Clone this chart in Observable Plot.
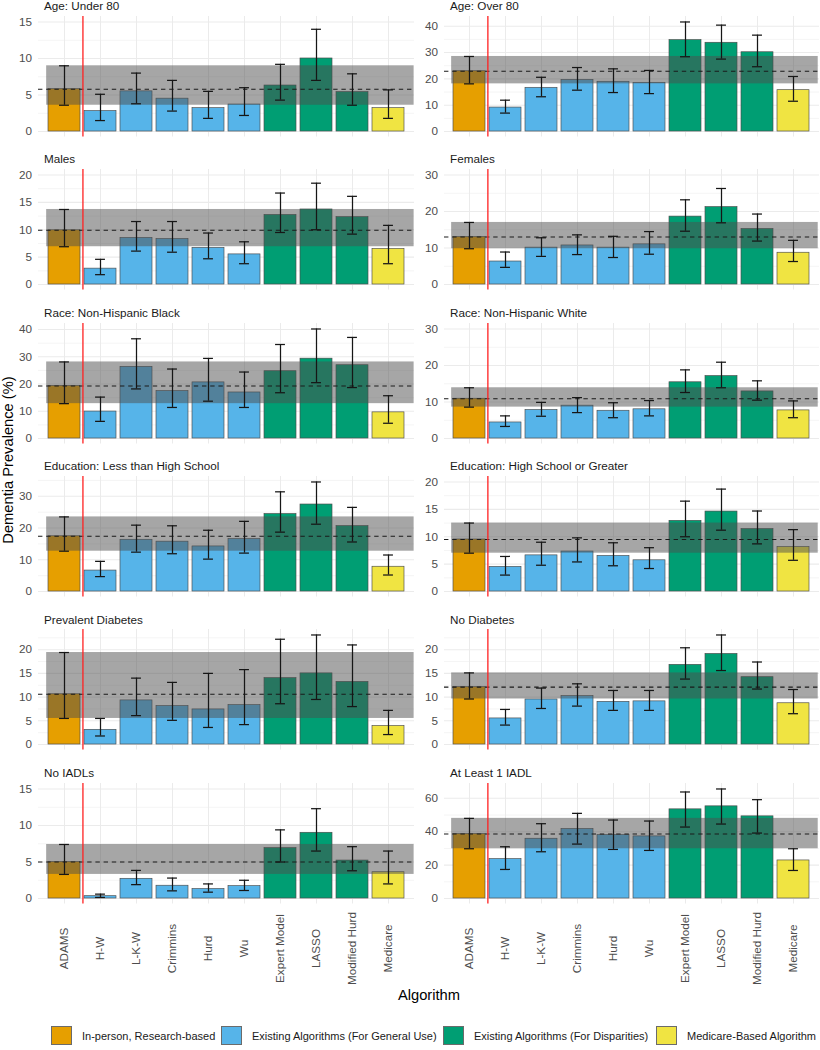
<!DOCTYPE html>
<html>
<head>
<meta charset="utf-8">
<script src="https://cdn.jsdelivr.net/npm/d3@7"></script>
<script src="https://cdn.jsdelivr.net/npm/@observablehq/plot@0.6"></script>
<style>
  body { margin: 0; background: #fff; }
  #chart { position: relative; width: 820px; height: 1050px; overflow: hidden; background: #fff;
           font-family: "Liberation Sans", Arial, Helvetica, sans-serif; }
  .strip { font-size: 11.7px; line-height: 1; color: #1a1a1a; white-space: nowrap; }
  .axtitle { font-size: 14.7px; line-height: 1; color: #000; white-space: nowrap; }
  .lgbox { position: absolute; width: 21px; height: 19px; box-sizing: border-box; border: 1px solid #6b6b6b; }
  .lgtext { position: absolute; font-size: 11px; line-height: 1; color: #1a1a1a; white-space: nowrap; }
</style>
</head>
<body>
<div id="chart"></div>
<script>
// ---------------- data ----------------
const algorithms = ["ADAMS", "H-W", "L-K-W", "Crimmins", "Hurd", "Wu", "Expert Model", "LASSO", "Modified Hurd", "Medicare"];
const groups = ["In-person, Research-based", "Existing Algorithms (For General Use)", "Existing Algorithms (For Disparities)", "Medicare-Based Algorithm"];
const algorithmGroup = [0, 1, 1, 1, 1, 1, 2, 2, 2, 3];
const groupColors = ["#E69F00", "#56B4E9", "#009E73", "#F0E442"];

const panelTitles = [
  "Age: Under 80", "Age: Over 80",
  "Males", "Females",
  "Race: Non-Hispanic Black", "Race: Non-Hispanic White",
  "Education: Less than High School", "Education: High School or Greater",
  "Prevalent Diabetes", "No Diabetes",
  "No IADLs", "At Least 1 IADL"
];

const estimate = [
  [5.8, 2.8, 5.5, 4.5, 3.2, 3.7, 6.3, 10.0, 5.4, 3.2],
  [22.9, 9.1, 16.6, 19.6, 18.9, 18.5, 34.7, 33.7, 30.1, 15.7],
  [9.9, 2.9, 8.5, 8.3, 6.7, 5.5, 12.7, 13.7, 12.3, 6.5],
  [13.0, 6.3, 10.1, 10.7, 10.1, 11.0, 18.6, 21.2, 15.2, 8.7],
  [19.3, 9.9, 26.3, 17.4, 20.6, 16.9, 24.7, 29.3, 26.9, 9.6],
  [10.9, 4.4, 7.8, 9.0, 7.6, 8.0, 15.4, 17.1, 12.9, 7.7],
  [17.4, 6.6, 16.3, 15.7, 14.2, 16.5, 24.4, 27.4, 20.6, 7.8],
  [9.5, 4.5, 6.6, 7.3, 6.5, 5.7, 12.9, 14.6, 11.4, 8.1],
  [10.6, 3.1, 9.3, 8.1, 7.4, 8.3, 14.0, 15.0, 13.2, 3.9],
  [12.1, 5.5, 9.5, 10.2, 9.0, 9.1, 16.8, 19.1, 14.2, 8.7],
  [5.0, 0.32, 2.7, 1.75, 1.3, 1.7, 6.9, 9.0, 5.2, 3.6],
  [38.6, 23.6, 35.8, 41.6, 38.0, 37.2, 53.4, 55.2, 49.2, 22.8]
];
const lower = [
  [3.6, 1.5, 3.8, 2.8, 1.8, 2.2, 4.3, 7.0, 3.6, 1.8],
  [18.1, 7.0, 13.2, 15.7, 14.8, 14.4, 28.4, 27.5, 24.6, 11.5],
  [6.9, 1.8, 6.1, 5.9, 4.7, 3.8, 9.5, 10.0, 9.2, 3.8],
  [9.8, 4.7, 7.7, 8.2, 7.4, 8.3, 14.6, 16.9, 11.9, 6.3],
  [12.8, 6.3, 18.2, 11.4, 13.7, 11.4, 16.8, 20.5, 18.7, 5.6],
  [8.6, 3.3, 6.1, 7.1, 5.7, 6.2, 12.6, 13.9, 10.5, 5.7],
  [12.7, 4.7, 12.4, 11.9, 10.2, 12.1, 18.7, 21.2, 15.6, 5.2],
  [7.0, 3.0, 4.8, 5.4, 4.7, 4.2, 10.0, 11.2, 8.7, 5.7],
  [5.5, 1.8, 6.1, 5.1, 3.6, 4.2, 8.6, 9.5, 8.0, 2.1],
  [9.6, 4.1, 7.6, 8.1, 7.2, 7.2, 13.8, 15.6, 11.7, 6.5],
  [3.3, 0.15, 1.9, 1.05, 0.87, 1.1, 5.0, 6.5, 3.8, 2.0],
  [29.8, 17.4, 28.0, 32.6, 29.4, 28.8, 42.8, 44.6, 39.2, 16.8]
];
const upper = [
  [9.0, 5.1, 8.0, 7.0, 5.5, 6.0, 9.2, 14.0, 7.9, 5.7],
  [28.5, 11.9, 20.6, 24.3, 23.8, 23.2, 41.6, 40.4, 36.6, 20.9],
  [13.7, 4.6, 11.5, 11.5, 9.4, 7.8, 16.7, 18.5, 16.1, 10.8],
  [17.0, 8.9, 12.8, 13.6, 13.2, 14.5, 23.2, 26.3, 19.3, 12.1],
  [28.1, 15.2, 36.6, 25.5, 29.4, 24.4, 34.5, 40.2, 37.1, 15.7],
  [13.9, 6.2, 9.9, 11.2, 9.8, 10.4, 18.8, 20.9, 15.8, 10.3],
  [23.5, 9.5, 20.9, 20.7, 19.3, 22.1, 31.4, 34.5, 26.5, 11.5],
  [12.5, 6.4, 9.0, 9.8, 8.9, 8.0, 16.5, 18.7, 14.7, 11.3],
  [19.4, 5.5, 14.0, 13.1, 15.0, 15.8, 22.2, 23.1, 21.0, 7.2],
  [15.1, 7.4, 11.9, 12.8, 11.4, 11.4, 20.4, 23.1, 17.4, 11.6],
  [7.4, 0.6, 3.85, 2.8, 2.0, 2.5, 9.4, 12.3, 7.1, 6.5],
  [48.0, 31.0, 44.8, 51.0, 47.0, 46.4, 63.8, 65.6, 59.2, 29.8]
];
// y-axis limits (before 5% expansion) and tick spacing per panel
const yLimit = [15, 41.6, 20, 30, 40.2, 30, 34.5, 20, 23.1, 23.1, 15, 65.6];
const tickStep = [5, 10, 5, 10, 10, 10, 10, 5, 5, 5, 5, 20];

const xTitle = "Algorithm";
const yTitle = "Dementia Prevalence (%)";

// ---------------- layout ----------------
const chart = document.getElementById("chart");
const FONT = '"Liberation Sans", Arial, Helvetica, sans-serif';
const colLeft = [0, 414], colWidth = [414, 406], mLeft = [38, 30], mRight = [0, 1];
const rowTop0 = 16, rowGap = 153.35, panelH = 120.5;

function place(el, left, top) {
  el.style.position = "absolute";
  el.style.left = left + "px";
  el.style.top = top + "px";
  chart.appendChild(el);
}

const xScale = {type: "band", domain: algorithms, paddingInner: 0.1, paddingOuter: 0.15, axis: null};
const ERR = "#161616", ERRW = 1.25;

panelTitles.forEach((title, i) => {
  const r = Math.floor(i / 2), c = i % 2;
  const rows = algorithms.map((a, j) => ({
    alg: a, group: groups[algorithmGroup[j]],
    est: estimate[i][j], lo: lower[i][j], hi: upper[i][j]
  }));
  const L = yLimit[i];
  const top = 1.05 * L;
  const majors = d3.range(0, top + 1e-9, tickStep[i]);
  const minors = d3.range(tickStep[i] / 2, top, tickStep[i]);
  const pw = colWidth[c] - mLeft[c] - mRight[c];
  const step = pw / 10.2;
  const rowTop = rowTop0 + rowGap * r;

  const svg = Plot.plot({
    width: colWidth[c], height: panelH + 10,
    marginTop: 5, marginBottom: 5, marginLeft: mLeft[c], marginRight: mRight[c],
    x: xScale,
    y: {domain: [-0.05 * L, top], axis: null},
    color: {domain: groups, range: groupColors},
    style: {fontSize: "11.7px", fontFamily: FONT, color: "#4d4d4d", background: "transparent", overflow: "visible"},
    marks: [
      Plot.ruleY(minors, {stroke: "#ebebeb", strokeWidth: 0.55}),
      Plot.ruleY(majors, {stroke: "#ebebeb", strokeWidth: 1.07}),
      Plot.ruleX(algorithms, {stroke: "#ebebeb", strokeWidth: 1.07}),
      Plot.barY(rows, {x: "alg", y: "est", fill: "group", stroke: "#4a4a4a", strokeWidth: 0.65}),
      Plot.barY([rows[0]], {x: "alg", y1: "lo", y2: "hi", fill: "#4d4d4d", fillOpacity: 0.5,
                            insetLeft: -0.05 * step, insetRight: -9.05 * step}),
      Plot.ruleY([rows[0]], {y: "est", stroke: "#1a1a1a", strokeWidth: 1.07, strokeDasharray: "4.4,3.8"}),
      Plot.ruleX(rows, {x: "alg", y1: "lo", y2: "hi", stroke: ERR, strokeWidth: ERRW}),
      Plot.tickY(rows, {x: "alg", y: "lo", stroke: ERR, strokeWidth: ERRW, insetLeft: 0.3 * step, insetRight: 0.3 * step}),
      Plot.tickY(rows, {x: "alg", y: "hi", stroke: ERR, strokeWidth: ERRW, insetLeft: 0.3 * step, insetRight: 0.3 * step}),
      Plot.ruleX([algorithms[0]], {stroke: "#ff2020", strokeWidth: 1.3, dx: step / 2}),
      Plot.axisY({ticks: majors, tickSize: 0, tickPadding: 6.5, label: null, color: "#4d4d4d", fontSize: 11.7})
    ]
  });
  place(svg, colLeft[c], rowTop - 5);

  const t = document.createElement("div");
  t.className = "strip";
  t.textContent = title;
  place(t, colLeft[c] + mLeft[c] + 6, rowTop - 15.9);
});

// x tick labels (bottom row), drawn with the same band scale
[0, 1].forEach(c => {
  const svg = Plot.plot({
    width: colWidth[c], height: 90,
    marginTop: 0, marginBottom: 0, marginLeft: mLeft[c], marginRight: mRight[c],
    x: xScale,
    style: {fontSize: "11.7px", fontFamily: FONT, color: "#4d4d4d", background: "transparent", overflow: "visible"},
    marks: [
      Plot.text(algorithms, {x: d => d, text: d => d, frameAnchor: "middle", rotate: -90,
                             textAnchor: "middle", fill: "#4d4d4d", fontSize: 11.7})
    ]
  });
  place(svg, colLeft[c], 903);
});

// axis titles
const xt = document.createElement("div");
xt.className = "axtitle";
xt.textContent = xTitle;
xt.style.transform = "translateX(-50%)";
place(xt, 429, 988);

const yt = document.createElement("div");
yt.className = "axtitle";
yt.textContent = yTitle;
yt.style.transform = "translate(-50%, -50%) rotate(-90deg)";
place(yt, 7.5, 460);

// legend
const legendBoxX = [51, 221, 443, 656];
groups.forEach((g, k) => {
  const b = document.createElement("div");
  b.className = "lgbox";
  b.style.background = groupColors[k];
  place(b, legendBoxX[k], 1026);
  const tx = document.createElement("div");
  tx.className = "lgtext";
  tx.textContent = g;
  place(tx, legendBoxX[k] + 31, 1030.5);
});
</script>
</body>
</html>
